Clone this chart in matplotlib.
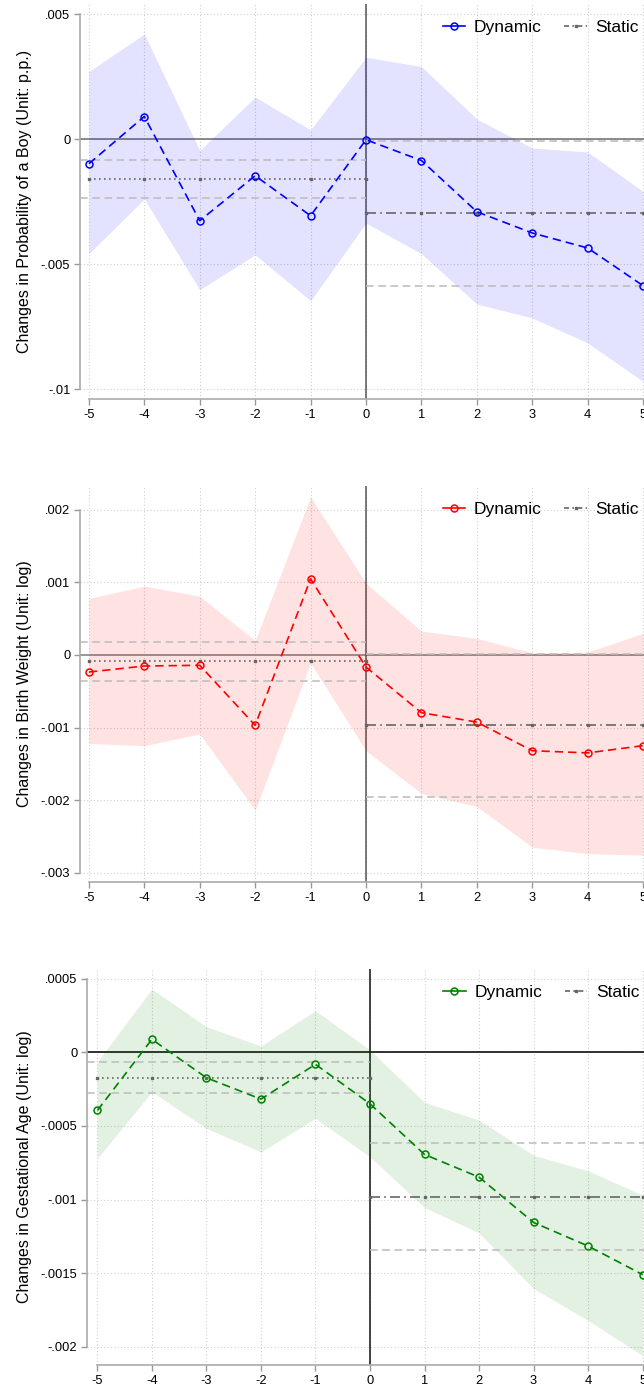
import matplotlib
matplotlib.use('Agg')
import matplotlib.pyplot as plt
import numpy as np

plt.rcParams['font.family'] = ['Liberation Sans', 'DejaVu Sans']

periods = [-5, -4, -3, -2, -1, 0, 1, 2, 3, 4, 5]

# panel 1: probability of a boy
boy_coef = [-0.00099, 0.0009, -0.00327, -0.00147, -0.00307, -0.00003,
            -0.00086, -0.00291, -0.00376, -0.00436, -0.00587]
boy_hi = [0.0027, 0.0042, -0.00046, 0.00168, 0.00037, 0.00327,
          0.0029, 0.0008, -0.00036, -0.00052, -0.0021]
boy_lo = [-0.00459, -0.0024, -0.00603, -0.00463, -0.00647, -0.00336,
          -0.00459, -0.0066, -0.00716, -0.00816, -0.0097]
boy_static_pre = [-0.00159, -0.00083, -0.00235]   # coef, upper, lower
boy_static_post = [-0.00296, -0.00007, -0.00587]
boy_yticks = [-0.01, -0.005, 0, 0.005]
boy_ylabels = ['-.01', '-.005', '0', '.005']

# panel 2: birth weight
bw_coef = [-0.000235, -0.000152, -0.000142, -0.00097, 0.00105, -0.000166,
           -0.000796, -0.000925, -0.00132, -0.00135, -0.00125]
bw_hi = [0.00078, 0.00095, 0.00081, 0.0002, 0.00218, 0.00099,
         0.00033, 0.00023, 0.00003, 0.00004, 0.0003]
bw_lo = [-0.00122, -0.00125, -0.00109, -0.00214, -0.00011, -0.00132,
         -0.00191, -0.00209, -0.00265, -0.00274, -0.00276]
bw_static_pre = [-0.000087, 0.00018, -0.00036]
bw_static_post = [-0.00097, 0.00002, -0.00196]
bw_yticks = [-0.003, -0.002, -0.001, 0, 0.001, 0.002]
bw_ylabels = ['-.003', '-.002', '-.001', '0', '.001', '.002']

# panel 3: gestational age
ga_coef = [-0.000395, 0.0000884, -0.000173, -0.000318, -0.0000816, -0.00035,
           -0.000694, -0.000848, -0.001156, -0.001316, -0.00151]
ga_hi = [-0.000064, 0.00043, 0.000174, 0.000043, 0.000283, 0.000016,
         -0.00034, -0.00046, -0.000699, -0.000805, -0.00097]
ga_lo = [-0.000721, -0.000268, -0.000517, -0.000676, -0.000449, -0.00071,
         -0.001054, -0.001227, -0.001605, -0.001821, -0.00206]
ga_static_pre = [-0.000175, -0.000068, -0.000279]
ga_static_post = [-0.00098, -0.000617, -0.00134]
ga_yticks = [-0.002, -0.0015, -0.001, -0.0005, 0, 0.0005]
ga_ylabels = ['-.002', '-.0015', '-.001', '-.0005', '0', '.0005']

W, H = 644, 1389


def draw_panel(ax, coef, hi, lo, pre, post, yticks, ylabels, ylabel,
               color, zero_color, vline_color, xlim, ylim, leg_anchor):
    x = np.array(periods)
    ax.set_xlim(*xlim)
    ax.set_ylim(*ylim)

    # grid
    for t in periods:
        ax.axvline(t, color='#d0d0d0', lw=0.8, ls=(0, (1, 2)), zorder=0)
    for t in yticks:
        ax.axhline(t, color='#d0d0d0', lw=0.8, ls=(0, (1, 2)), zorder=0)

    ax.axhline(0, color=zero_color, lw=1.2, zorder=1)
    ax.axvline(0, color=vline_color, lw=1.1, zorder=1)

    ax.fill_between(x, lo, hi, color=color, alpha=0.11, lw=0, zorder=2)

    # static estimates
    pre_x = [-5, -4, -3, -2, -1, 0]
    post_x = [0, 1, 2, 3, 4, 5]
    ax.plot([xlim[0], 0], [pre[1], pre[1]], color='#bbbbbb', lw=1.1,
            ls=(0, (5, 3)), zorder=3)
    ax.plot([xlim[0], 0], [pre[2], pre[2]], color='#bbbbbb', lw=1.1,
            ls=(0, (5, 3)), zorder=3)
    ax.plot(pre_x, [pre[0]] * 6, color='#666666', lw=1.2, ls=(0, (1, 2)),
            marker='s', ms=2, zorder=3)
    ax.plot([0, xlim[1]], [post[1], post[1]], color='#bbbbbb', lw=1.1,
            ls=(0, (5, 3)), zorder=3)
    ax.plot([0, xlim[1]], [post[2], post[2]], color='#bbbbbb', lw=1.1,
            ls=(0, (5, 3)), zorder=3)
    ax.plot(post_x + [xlim[1]], [post[0]] * 7, color='#666666', lw=1.2,
            ls=(0, (6, 2.5, 1, 2.5)), marker='s', ms=2, markevery=list(range(6)),
            zorder=3)

    # dynamic estimates
    ax.plot(x, coef, color=color, lw=1.2, ls=(0, (5, 3)), marker='o', ms=5,
            mfc='none', mew=1.1, zorder=4)

    h_dyn = plt.Line2D([], [], color=color, lw=1.2, marker='o', ms=5,
                       mfc='none', mew=1.1)
    h_sta = plt.Line2D([], [], color='#666666', lw=1.2,
                       ls=(0, (3, 2, 1, 2)), marker='s', ms=2)
    ax.legend([h_dyn, h_sta], ['Dynamic', 'Static'], loc='upper left',
              bbox_to_anchor=leg_anchor, ncol=2, frameon=False,
              fontsize=12.5, handlelength=1.3, handletextpad=0.5,
              columnspacing=1.3, borderaxespad=0)

    ax.set_xticks(periods)
    ax.set_xticklabels([str(p) for p in periods])
    ax.set_yticks(yticks)
    ax.set_yticklabels(ylabels)
    ax.tick_params(axis='both', labelsize=9.3, length=4, width=1,
                   color='#999999', pad=3)
    ax.set_ylabel(ylabel, fontsize=11.5, labelpad=6)

    for s in ['top', 'right']:
        ax.spines[s].set_visible(False)
    ax.spines['left'].set_bounds(yticks[0], yticks[-1])
    ax.spines['bottom'].set_bounds(-5, 5)
    for s in ['left', 'bottom']:
        ax.spines[s].set_color('#aaaaaa')
        ax.spines[s].set_linewidth(1.2)


def pix_axes(fig, left, right, top, bottom):
    return fig.add_axes([left / W, 1 - bottom / H, (right - left) / W,
                         (bottom - top) / H])


fig = plt.figure(figsize=(W / 100, H / 100), dpi=100)

ax1 = pix_axes(fig, 80, 652, 4, 399)
draw_panel(ax1, boy_coef, boy_hi, boy_lo, boy_static_pre, boy_static_post,
           boy_yticks, boy_ylabels, 'Changes in Probability of a Boy (Unit: p.p.)',
           '#0000ff', '#777777', '#555555', (-5.16, 5.16), (-0.0104, 0.0054),
           (0.622, 0.977))

ax2 = pix_axes(fig, 80, 652, 486, 882)
draw_panel(ax2, bw_coef, bw_hi, bw_lo, bw_static_pre, bw_static_post,
           bw_yticks, bw_ylabels, 'Changes in Birth Weight (Unit: log)',
           '#ff0000', '#888888', '#555555', (-5.16, 5.16), (-0.00313, 0.00233),
           (0.622, 0.977))

ax3 = pix_axes(fig, 87, 653, 969, 1365)
draw_panel(ax3, ga_coef, ga_hi, ga_lo, ga_static_pre, ga_static_post,
           ga_yticks, ga_ylabels, 'Changes in Gestational Age (Unit: log)',
           '#008000', '#111111', '#111111', (-5.19, 5.19), (-0.002124, 0.000566),
           (0.617, 0.977))

fig.savefig('out.png', dpi=100)
